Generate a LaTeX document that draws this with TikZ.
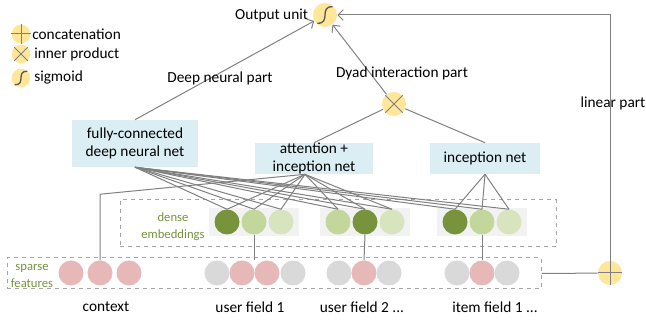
\documentclass[tikz,border=0pt]{standalone}
\usepackage{fontspec}
\setmainfont{Carlito}
\usetikzlibrary{arrows.meta,calc,fit,backgrounds}
\definecolor{linegray}{HTML}{808080}
\definecolor{dashgray}{HTML}{A6A6A6}
\definecolor{gold}{HTML}{FFE699}
\definecolor{boxblue}{HTML}{DAEEF3}
\definecolor{bggray}{HTML}{F2F2F2}
\definecolor{pink}{HTML}{E6B9B8}
\definecolor{lgray}{HTML}{D9D9D9}
\definecolor{embdark}{HTML}{77933C}
\definecolor{embmid}{HTML}{C3D69B}
\definecolor{emblight}{HTML}{D7E4BD}
\definecolor{olive}{HTML}{76923C}
\tikzset{
  conn/.style={draw=linegray, line width=0.75pt},
  arr/.style={conn, -{Straight Barb[length=4pt,width=8pt]}},
  unit/.style={circle, fill=gold, minimum size=18pt, inner sep=0pt},
  legunit/.style={unit, minimum size=14pt},
  emb/.style={circle, minimum size=18.75pt, inner sep=0pt},
  netbox/.style={fill=boxblue, align=center, inner sep=0pt, font=\fontsize{11.5}{13.5}\selectfont},
  lbl/.style={font=\fontsize{11.5}{14}\selectfont},
  small/.style={text=olive, align=center, inner sep=0pt, font=\fontsize{9.5}{12.5}\selectfont},
  dashbox/.style={draw=dashgray, dashed, line width=0.75pt, inner sep=0pt},
}
\newcommand\sigcurve[2]{% S curve in a unit
  \draw[draw=black!65, line width=1pt] ($(#1)+(-0.7*#2,0.75*#2)$) .. controls ($(#1)+(0.6*#2,0.8*#2)$) and ($(#1)+(-0.6*#2,-0.8*#2)$) .. ($(#1)+(0.7*#2,-0.75*#2)$);}
\begin{document}
\begin{tikzpicture}[x=0.75pt, y=-0.75pt]
\useasboundingbox (0,0) rectangle (646,323);
% legend
\node[legunit] (lcat) at (21,34) {};
\draw[conn] (lcat.north) -- (lcat.south) (lcat.west) -- (lcat.east);
\node[lbl, anchor=west, inner sep=0pt] (lcattxt) at (32,34) {concatenation};
\node[legunit] (ldot) at (21,54) {};
\draw[conn] (ldot.north west) -- (ldot.south east) (ldot.north east) -- (ldot.south west);
\node[lbl, anchor=west, inner sep=0pt] (ldottxt) at (34,54) {inner product};
\node[legunit] (lsig) at (21,78) {};
\sigcurve{lsig}{9}
\node[lbl, anchor=west, inner sep=0pt] (lsigtxt) at (34,78) {sigmoid};
% units
\node[unit] (out) at (325,15) {};
\sigcurve{out}{11}
\node[lbl, anchor=east] (outtxt) at (out.west) {Output unit};
\node[unit] (dyad) at (394,104) {};
\draw[conn] (dyad.north west) -- (dyad.south east) (dyad.north east) -- (dyad.south west);
\node[unit] (cat) at (610,273) {};
\draw[conn] (cat.north) -- (cat.south) (cat.west) -- (cat.east);
% nets
\node[netbox, minimum width=94.5pt, minimum height=35.25pt] (dnn) at (135,143.5) {fully-connected\\deep neural net};
\node[netbox, minimum width=88.5pt, minimum height=23.25pt] (att) at (314,158.5) {attention +\\inception net};
\node[netbox, minimum width=82.5pt, minimum height=23.25pt] (inc) at (485,158.5) {inception net};
% dense embeddings
\node[dashbox, fit={(120,200)(556,247)}] (dense) {};
\node[small] (densetxt) at (173,227) {dense\\embeddings};
\foreach \g/\x/\ca/\cb/\cc in {1/254/embdark/embmid/emblight, 2/365/embmid/embdark/emblight, 3/482/embdark/embmid/emblight} {
  \node[emb, fill=\ca] (d\g1) at (\x-27,222) {};
  \node[emb, fill=\cb] (d\g2) at (\x,222) {};
  \node[emb, fill=\cc] (d\g3) at (\x+27,222) {};
}
\begin{scope}[on background layer]
  \foreach \g in {1,2,3}
    \node[fill=bggray, inner xsep=4pt, inner ysep=0.75pt, fit=(d\g1)(d\g3)] (bg\g) {};
\end{scope}
% sparse features
\node[dashbox, fit={(7,258)(541,289)}] (sparse) {};
\node[small] (sparsetxt) at (32,276) {sparse\\features};
\foreach \n/\x/\c in {c1/71/pink, c2/100/pink, c3/129/pink, u11/217/lgray, u12/242/pink, u13/267/pink, u14/293/lgray, u21/339/lgray, u22/364/pink, u23/389/lgray, i1/457/lgray, i2/482/pink, i3/507/lgray}
  \node[emb, fill=\c] (\n) at (\x,273) {};
\node[lbl] (ctxtxt) at (106,307) {context};
\node[lbl] (uf1txt) at (250,307) {user field 1};
\node[lbl] (uf2txt) at (362,307) {user field 2 ...};
\node[lbl] (if1txt) at (495,307) {item field 1 ...};
% connectors
\coordinate (attin) at ($(att.south)+(-9,0)$);
\foreach \g in {1,2,3} \foreach \k in {1,2,3} \draw[conn] (dnn.south) -- (d\g\k.north);
\foreach \g in {1,2} \foreach \k in {1,2,3} \draw[conn] (attin) -- (d\g\k.north);
\foreach \k in {1,2,3} \draw[conn] (inc.south) -- (d3\k.north);
\draw[conn] (c2.north) -- ++(0,-66) -- (attin); %context
\draw[conn] (d12.south) -- (d12.south |- u12.north);
\draw[conn] (d22.south) -- (u22.north);
\draw[conn] (d32.south) -- (i2.north);
\draw[arr] (dnn.north) -- (out);
\draw[conn] (att.north) -- (dyad);
\draw[conn] (inc.north) -- (dyad);
\draw[arr] (dyad) -- (out);
\draw[conn] (sparse.east) -- (cat);
\draw[arr] (cat.north) -- (cat.north |- out) -- (out);
% part labels
\node[lbl] (deeptxt) at (220,78) {Deep neural part};
\node[lbl] (dyadtxt) at (402,73) {Dyad interaction part};
\node[lbl] (lintxt) at (613,103) {linear part};
\end{tikzpicture}
\end{document}
